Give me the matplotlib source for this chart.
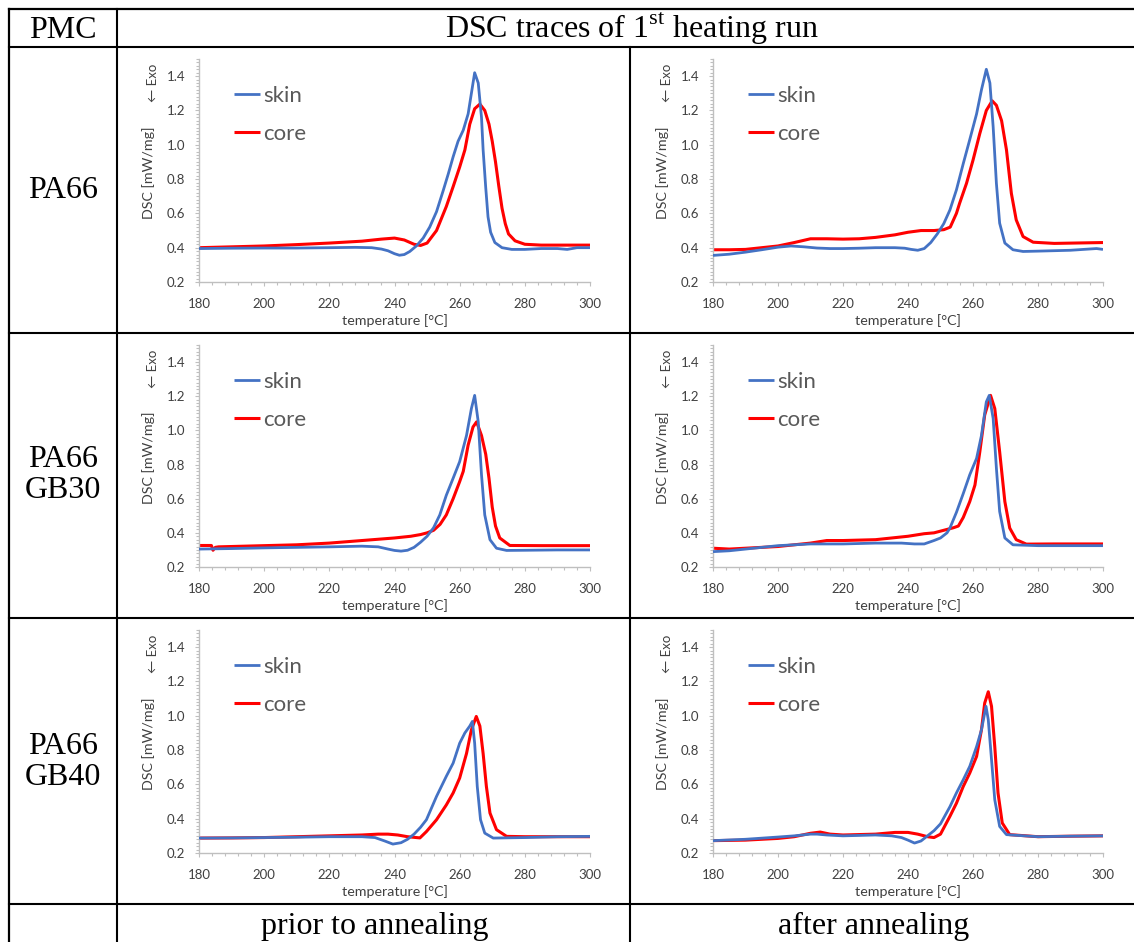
import matplotlib
matplotlib.use("Agg")
import matplotlib.pyplot as plt
from matplotlib.lines import Line2D
from matplotlib.ticker import MultipleLocator

# ---------------- data ----------------
materials = ["PA66", "PA66\nGB30", "PA66\nGB40"]
conditions = ["prior to annealing", "after annealing"]
series_labels = ["skin", "core"]

# PA66, prior to annealing
T_pa66_prior_skin = [180, 190, 200, 210, 220, 228, 233, 236, 238, 240, 241.5, 243, 244.7, 246.7, 248.8, 250.8,
                     252.9, 254.9, 256.5, 258, 259.5, 261.1, 262.6, 263.6, 264.6, 265.7, 266.7, 267.2, 268, 268.7,
                     269.5, 270.8, 273, 276, 280, 285, 290, 293, 296, 300]
DSC_pa66_prior_skin = [0.395, 0.397, 0.398, 0.398, 0.400, 0.402, 0.400, 0.392, 0.382, 0.365, 0.356, 0.360, 0.378,
                       0.41, 0.456, 0.52, 0.61, 0.73, 0.83, 0.93, 1.02, 1.085, 1.18, 1.30, 1.42, 1.36, 1.16, 0.97,
                       0.75, 0.58, 0.49, 0.43, 0.40, 0.39, 0.39, 0.395, 0.395, 0.39, 0.40, 0.40]
T_pa66_prior_core = [180, 190, 200, 210, 220, 230, 236, 240, 243, 246, 248, 250, 252.9, 255.9, 258, 260, 261.6,
                     263.1, 264.6, 266.2, 267.7, 269, 270, 271, 272, 273, 274, 275, 277, 280, 285, 290, 300]
DSC_pa66_prior_core = [0.40, 0.405, 0.41, 0.418, 0.427, 0.438, 0.45, 0.456, 0.445, 0.42, 0.413, 0.427, 0.50, 0.64,
                       0.756, 0.87, 0.97, 1.12, 1.21, 1.237, 1.20, 1.12, 1.02, 0.90, 0.76, 0.63, 0.54, 0.48, 0.44,
                       0.42, 0.415, 0.415, 0.415]

# PA66, after annealing
T_pa66_after_skin = [180, 185, 190, 195, 200, 204, 208, 212, 216, 220, 225, 230, 236, 239, 241, 243, 245, 247, 249,
                     251, 252.9, 254.9, 257, 259, 261.1, 262.6, 264.1, 265.2, 266.2, 267.2, 268.2, 269.8, 272.3,
                     275.4, 280, 290, 298, 300]
DSC_pa66_after_skin = [0.355, 0.362, 0.374, 0.388, 0.403, 0.41, 0.405, 0.398, 0.395, 0.395, 0.397, 0.40, 0.40,
                       0.397, 0.39, 0.385, 0.395, 0.43, 0.48, 0.54, 0.62, 0.737, 0.89, 1.03, 1.18, 1.32, 1.44, 1.36,
                       1.105, 0.775, 0.543, 0.427, 0.388, 0.378, 0.38, 0.385, 0.395, 0.39]
T_pa66_after_core = [180, 185, 190, 195, 200, 205, 210, 215, 220, 225, 230, 236, 240, 244, 248, 251, 253, 254.9,
                     255.9, 258, 260, 262.1, 264.1, 265.9, 267.2, 268.8, 270.3, 271.8, 273.3, 275.4, 278.5, 285, 300]
DSC_pa66_after_core = [0.388, 0.388, 0.39, 0.40, 0.41, 0.43, 0.452, 0.452, 0.45, 0.452, 0.46, 0.475, 0.49, 0.50,
                       0.50, 0.505, 0.52, 0.60, 0.66, 0.775, 0.91, 1.066, 1.20, 1.256, 1.23, 1.14, 0.97, 0.717,
                       0.562, 0.465, 0.432, 0.425, 0.43]

# PA66 GB30, prior to annealing
T_gb30_prior_skin = [180, 190, 200, 210, 220, 230, 235, 238, 240, 242, 244, 246, 248, 250, 252, 253.9, 255.9, 258,
                     260, 262.1, 263.6, 264.6, 265.7, 266.7, 267.7, 269.3, 271.3, 274.4, 280, 290, 300]
DSC_gb30_prior_skin = [0.305, 0.308, 0.312, 0.315, 0.318, 0.322, 0.318, 0.305, 0.297, 0.293, 0.298, 0.315, 0.345,
                       0.38, 0.43, 0.505, 0.62, 0.72, 0.817, 0.97, 1.128, 1.205, 1.05, 0.74, 0.505, 0.36, 0.31,
                       0.297, 0.298, 0.30, 0.30]
T_gb30_prior_core = [180, 183.8, 184.3, 185, 186, 190, 200, 210, 220, 230, 240, 245, 248, 250, 252, 254, 255.9,
                     258, 260, 261.1, 262.6, 264.1, 265.2, 266.7, 268, 269, 270, 271, 272.3, 275.4, 285, 300]
DSC_gb30_prior_core = [0.326, 0.326, 0.298, 0.315, 0.318, 0.32, 0.325, 0.33, 0.34, 0.355, 0.37, 0.38, 0.39, 0.40,
                       0.415, 0.45, 0.505, 0.60, 0.70, 0.76, 0.914, 1.02, 1.05, 0.97, 0.86, 0.72, 0.55, 0.44, 0.37,
                       0.326, 0.325, 0.325]

# PA66 GB30, after annealing
T_gb30_after_skin = [180, 185, 190, 195, 200, 205, 210, 215, 220, 230, 238, 242, 245, 248, 250, 252, 252.9, 254.9,
                     257, 259, 261.1, 262.6, 264.1, 265, 266.2, 267.2, 268.2, 269.8, 272.3, 280, 290, 300]
DSC_gb30_after_skin = [0.29, 0.295, 0.305, 0.315, 0.325, 0.33, 0.335, 0.335, 0.335, 0.34, 0.34, 0.335, 0.335,
                       0.355, 0.37, 0.40, 0.428, 0.52, 0.63, 0.74, 0.836, 0.97, 1.167, 1.205, 1.07, 0.778, 0.525,
                       0.37, 0.33, 0.325, 0.325, 0.325]
T_gb30_after_core = [180, 185, 190, 195, 200, 205, 210, 215, 220, 230, 240, 245, 248, 252, 254, 255.5, 257, 259,
                     260.6, 262.1, 263.6, 265.4, 266.7, 268.2, 269.8, 271.3, 273.3, 276.4, 285, 300]
DSC_gb30_after_core = [0.31, 0.305, 0.31, 0.315, 0.32, 0.33, 0.34, 0.355, 0.355, 0.36, 0.38, 0.395, 0.40, 0.42,
                       0.43, 0.44, 0.49, 0.583, 0.68, 0.875, 1.09, 1.205, 1.128, 0.875, 0.583, 0.428, 0.36, 0.334,
                       0.335, 0.335]

# PA66 GB40, prior to annealing
T_gb40_prior_skin = [180, 190, 200, 210, 220, 230, 234, 237, 239.5, 242, 244, 246, 248, 249.8, 252.9, 255.9, 258,
                     260, 261.6, 263.1, 263.9, 264.6, 265.4, 266.4, 267.7, 270.3, 280, 290, 300]
DSC_gb40_prior_skin = [0.287, 0.288, 0.29, 0.292, 0.295, 0.295, 0.29, 0.27, 0.252, 0.26, 0.28, 0.31, 0.35, 0.394,
                       0.53, 0.647, 0.724, 0.84, 0.90, 0.94, 0.967, 0.84, 0.588, 0.394, 0.316, 0.287, 0.29, 0.295,
                       0.297]
T_gb40_prior_core = [180, 190, 200, 210, 220, 230, 235, 238, 241, 244, 247.8, 249.8, 252.9, 255.9, 258, 260, 262.1,
                     263.6, 265.1, 266.2, 267.2, 268.2, 269.3, 271.3, 274.4, 280, 290, 300]
DSC_gb40_prior_core = [0.287, 0.288, 0.29, 0.295, 0.30, 0.305, 0.31, 0.31, 0.305, 0.295, 0.288, 0.325, 0.394,
                       0.48, 0.55, 0.637, 0.78, 0.918, 0.996, 0.94, 0.78, 0.588, 0.433, 0.336, 0.297, 0.295, 0.295,
                       0.295]

# PA66 GB40, after annealing
T_gb40_after_skin = [180, 190, 200, 205, 210, 212, 215, 220, 230, 235, 238, 240, 242, 244, 246, 248, 250, 252.9,
                     254.9, 257, 259, 261.1, 262.6, 264, 264.7, 265.7, 266.7, 268.2, 270.3, 280, 290, 300]
DSC_gb40_after_skin = [0.272, 0.28, 0.293, 0.30, 0.31, 0.31, 0.305, 0.30, 0.305, 0.30, 0.29, 0.275, 0.258, 0.27,
                       0.30, 0.33, 0.37, 0.47, 0.55, 0.627, 0.705, 0.82, 0.918, 1.055, 0.977, 0.744, 0.51, 0.355,
                       0.307, 0.295, 0.298, 0.30]
T_gb40_after_core = [180, 190, 200, 205, 210, 213, 216, 220, 230, 236, 240, 243, 246, 248, 250, 252.9, 254.9, 257,
                     259, 261.1, 262.6, 263.6, 264.7, 265.7, 266.7, 267.7, 269, 271.3, 280, 290, 300]
DSC_gb40_after_core = [0.272, 0.275, 0.285, 0.295, 0.315, 0.322, 0.31, 0.305, 0.31, 0.32, 0.32, 0.31, 0.295, 0.29,
                       0.31, 0.414, 0.49, 0.588, 0.666, 0.763, 0.918, 1.074, 1.14, 1.055, 0.82, 0.55, 0.375, 0.307,
                       0.295, 0.298, 0.30]

x_ticks = [180, 200, 220, 240, 260, 280, 300]
y_ticks = [0.2, 0.4, 0.6, 0.8, 1.0, 1.2, 1.4]

panels = [
    [((T_pa66_prior_skin, DSC_pa66_prior_skin), (T_pa66_prior_core, DSC_pa66_prior_core)),
     ((T_pa66_after_skin, DSC_pa66_after_skin), (T_pa66_after_core, DSC_pa66_after_core))],
    [((T_gb30_prior_skin, DSC_gb30_prior_skin), (T_gb30_prior_core, DSC_gb30_prior_core)),
     ((T_gb30_after_skin, DSC_gb30_after_skin), (T_gb30_after_core, DSC_gb30_after_core))],
    [((T_gb40_prior_skin, DSC_gb40_prior_skin), (T_gb40_prior_core, DSC_gb40_prior_core)),
     ((T_gb40_after_skin, DSC_gb40_after_skin), (T_gb40_after_core, DSC_gb40_after_core))],
]

# ---------------- figure ----------------
W, H = 1134, 942
plt.rcParams["mathtext.fontset"] = "custom"
plt.rcParams["mathtext.rm"] = "Liberation Serif"
fig = plt.figure(figsize=(W / 100, H / 100), dpi=100)
fig.patch.set_facecolor("white")

SERIF = "Liberation Serif"
SANS = ["Lato", "DejaVu Sans"]
BLUE = "#4472C4"
RED = "#FF0000"
AXC = "#BFBFBF"
TXC = "#404040"


def fx(px):
    return px / W


def fy(py):
    return 1 - py / H


def hline(py, x0, x1, lw=1.5):
    fig.add_artist(Line2D([fx(x0), fx(x1)], [fy(py), fy(py)], color="black", lw=lw))


def vline(px, y0, y1, lw=1.5):
    fig.add_artist(Line2D([fx(px), fx(px)], [fy(y0), fy(y1)], color="black", lw=lw))


# table grid
hline(9, 9, W, 1.6)
hline(47, 9, W)
hline(333, 9, W)
hline(618, 9, W)
hline(904, 9, W)
vline(9, 9, H, 1.6)
vline(117, 9, H)
vline(630, 47, H)

# table text
FS = 23
fig.text(fx(63), fy(38), "PMC", fontfamily=SERIF, fontsize=FS, ha="center", va="baseline")
fig.text(fx(632), fy(38), r"DSC traces of 1$^{\mathrm{st}}$ heating run", fontfamily=SERIF, fontsize=FS,
         ha="center", va="baseline")
row_centers = [190, 475, 762]
for mat, yc in zip(materials, row_centers):
    fig.text(fx(63), fy(yc), mat, fontfamily=SERIF, fontsize=FS, ha="center", va="center",
             linespacing=1.12)
fig.text(fx(375), fy(934), conditions[0], fontfamily=SERIF, fontsize=FS, ha="center", va="baseline")
fig.text(fx(874), fy(934), conditions[1], fontfamily=SERIF, fontsize=FS, ha="center", va="baseline")

# axes
col_x = [(199, 590), (713, 1103)]
row_y = [(59, 282), (345, 567), (630, 853)]

for r in range(3):
    for c in range(2):
        x0, x1 = col_x[c]
        y0, y1 = row_y[r]
        ax = fig.add_axes([fx(x0), fy(y1), (x1 - x0) / W, (y1 - y0) / H])
        (ts, ds), (tc, dc) = panels[r][c]
        l1, = ax.plot(ts, ds, color=BLUE, lw=2.0, solid_joinstyle="round", solid_capstyle="butt",
                      label=series_labels[0], zorder=3)
        l2, = ax.plot(tc, dc, color=RED, lw=2.2, solid_joinstyle="round", solid_capstyle="butt",
                      label=series_labels[1], zorder=2)
        ax.set_xlim(180, 300)
        ax.set_ylim(0.2, 1.5)
        ax.set_xticks(x_ticks)
        ax.set_yticks(y_ticks)
        ax.set_yticklabels([f"{v:.1f}" for v in y_ticks])
        ax.xaxis.set_minor_locator(MultipleLocator(4))
        ax.yaxis.set_minor_locator(MultipleLocator(0.02))
        for s in ("top", "right"):
            ax.spines[s].set_visible(False)
        for s in ("left", "bottom"):
            ax.spines[s].set_color(AXC)
            ax.spines[s].set_linewidth(1.0)
        ax.tick_params(axis="both", which="both", direction="out", color=AXC, width=0.8)
        ax.tick_params(axis="both", which="major", length=3, labelsize=9.5, labelcolor=TXC)
        ax.tick_params(axis="both", which="minor", length=2.5)
        ax.tick_params(axis="x", which="major", pad=8.5)
        ax.tick_params(axis="y", which="major", pad=7)
        for lab in ax.get_xticklabels() + ax.get_yticklabels():
            lab.set_fontfamily(SANS)
        ax.set_xlabel("temperature [°C]", fontfamily=SANS, fontsize=10.3, color=TXC)
        ax.xaxis.set_label_coords(0.5, -0.145)
        ax.set_ylabel("DSC [mW/mg]", fontfamily=SANS, fontsize=10.3, color=TXC)
        ax.yaxis.set_label_coords(-0.112, 0.49)
        ax.text(-0.118, 0.892, "← Exo", transform=ax.transAxes, rotation=90, ha="center", va="center",
                fontfamily=SANS, fontsize=9.5, color=TXC)
        ax.legend(handles=[l1, l2], loc="upper left", bbox_to_anchor=(0.0895, 0.879), frameon=False,
                  handlelength=1.17, handletextpad=0.15, labelspacing=0.82,
                  borderaxespad=0, borderpad=0, labelcolor="#595959",
                  prop={"family": SANS, "size": 16})
        ax.patch.set_alpha(0)

fig.savefig("out.png", dpi=100, facecolor="white")
